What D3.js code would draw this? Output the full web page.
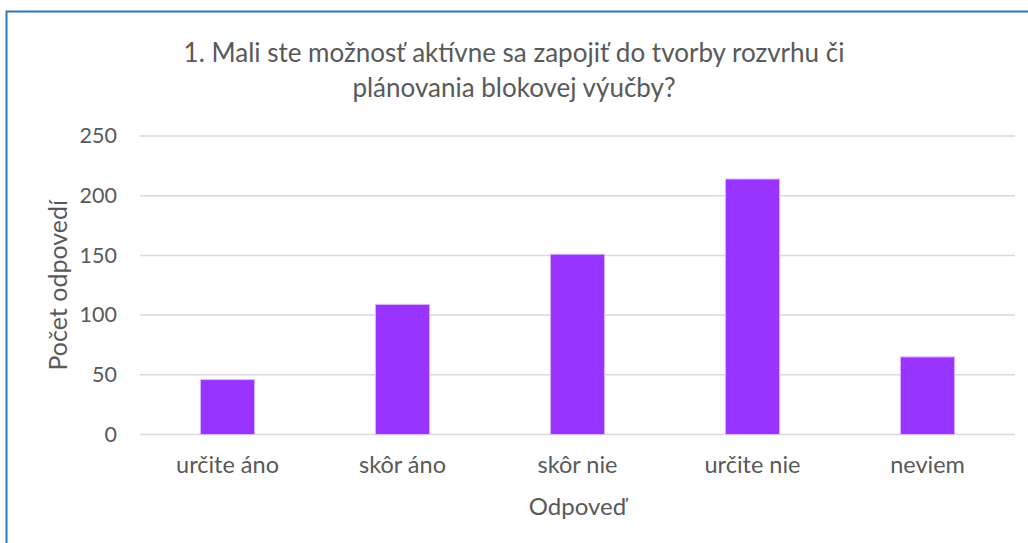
<!DOCTYPE html>
<html>
<head>
<meta charset="utf-8">
<script src="https://cdn.jsdelivr.net/npm/d3@7"></script>
<style>
  html, body { margin: 0; padding: 0; background: #fff; }
  svg { display: block; }
  text { font-family: Lato, "Open Sans", sans-serif; fill: #595959; }
</style>
</head>
<body>
<svg id="chart" width="1028" height="543"></svg>
<script>
// Survey answers and their counts
const categories = ["určite áno", "skôr áno", "skôr nie", "určite nie", "neviem"];
const counts = [46, 109, 151, 214, 65];
const yTicks = [0, 50, 100, 150, 200, 250];
const titleLines = ["1. Mali ste možnosť aktívne sa zapojiť do tvorby rozvrhu či", "plánovania blokovej výučby?"];
const xTitle = "Odpoveď";
const yTitle = "Počet odpovedí";

const svg = d3.select("#chart");
const W = 1028, H = 543;
const plot = { left: 140, right: 1015, top: 136, bottom: 434.5 };

// chart frame
svg.append("rect")
  .attr("x", 6.5).attr("y", 11.5)
  .attr("width", W + 20).attr("height", H + 20)
  .attr("fill", "#fff")
  .attr("stroke", "#2e75b6").attr("stroke-width", 2);

const x = d3.scaleBand()
  .domain(categories)
  .range([plot.left, plot.right])
  .paddingInner(0.69).paddingOuter(0.345);

const y = d3.scaleLinear().domain([0, 250]).range([plot.bottom, plot.top]);

// gridlines
svg.append("g")
  .selectAll("line")
  .data(yTicks)
  .join("line")
  .attr("x1", plot.left).attr("x2", plot.right)
  .attr("y1", d => y(d)).attr("y2", d => y(d))
  .attr("stroke", "#d9d9d9").attr("stroke-width", 1.5);

// y tick labels
const yAxis = d3.axisLeft(y).tickValues(yTicks).tickSize(0).tickPadding(0);
const gy = svg.append("g").attr("transform", `translate(${plot.left - 23},0)`).call(yAxis);
gy.select(".domain").remove();
gy.selectAll("text")
  .attr("font-family", "Lato, 'Open Sans', sans-serif")
  .attr("font-size", 21.5).attr("fill", "#595959");

// bars
svg.append("g")
  .selectAll("rect")
  .data(categories.map((c, i) => ({ c, v: counts[i] })))
  .join("rect")
  .attr("x", d => x(d.c))
  .attr("y", d => y(d.v))
  .attr("width", x.bandwidth())
  .attr("height", d => y(0) - y(d.v))
  .attr("fill", "#9933ff")
  .attr("stroke", "#dcbcff").attr("stroke-width", 1);

// x tick labels
const xAxis = d3.axisBottom(x).tickSize(0).tickPadding(0);
const gx = svg.append("g").attr("transform", `translate(0,${plot.bottom + 22})`).call(xAxis);
gx.select(".domain").remove();
gx.selectAll("text")
  .attr("font-family", "Lato, 'Open Sans', sans-serif")
  .attr("font-size", 23.5).attr("fill", "#595959");

// title
svg.append("text")
  .attr("text-anchor", "middle")
  .attr("font-size", 26)
  .selectAll("tspan")
  .data(titleLines)
  .join("tspan")
  .attr("x", 514)
  .attr("y", (d, i) => 62 + i * 35)
  .text(d => d);

// axis titles
svg.append("text")
  .attr("text-anchor", "middle")
  .attr("x", (plot.left + plot.right) / 2)
  .attr("y", 515)
  .attr("font-size", 24)
  .text(xTitle);

svg.append("text")
  .attr("text-anchor", "middle")
  .attr("transform", `translate(67,${(plot.top + plot.bottom) / 2}) rotate(-90)`)
  .attr("font-size", 25)
  .text(yTitle);
</script>
</body>
</html>
